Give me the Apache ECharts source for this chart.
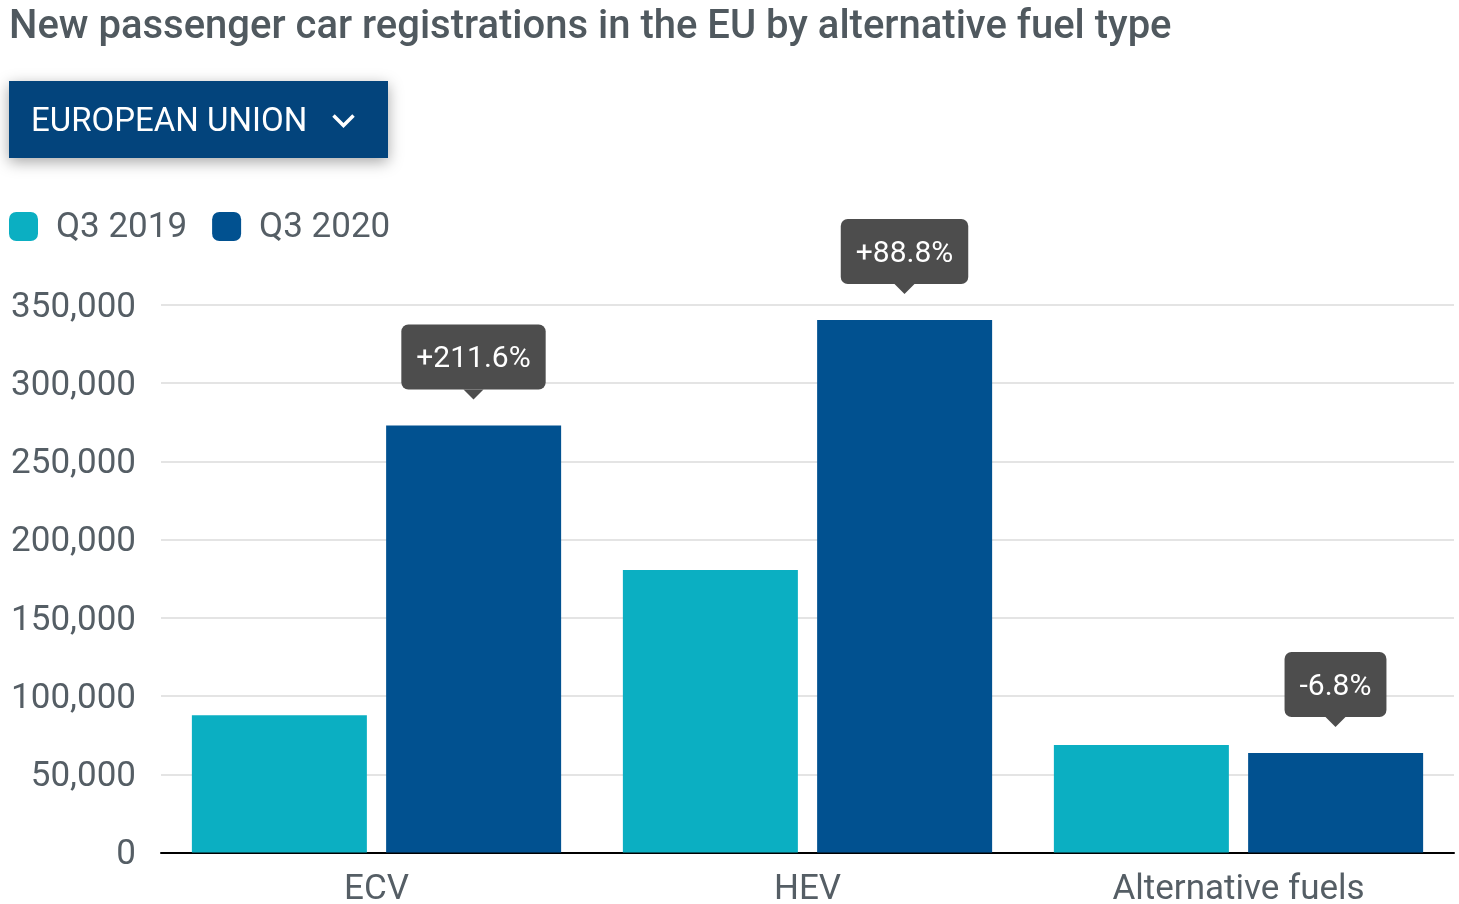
<!DOCTYPE html>
<html><head><meta charset="utf-8">
<style>html,body{margin:0;padding:0;background:#fff}#c{width:1459px;height:904px}</style>
<script src="https://cdn.jsdelivr.net/npm/echarts@6/dist/echarts.min.js"></script>
</head><body><div id="c"></div>
<script>
const categories = ['ECV','HEV','Alternative fuels'];
const q32019 = [87700,180600,68700];
const q32020 = [273000,340400,63600];
const changes = ['+211.6%','+88.8%','-6.8%'];
const font='Roboto', grey='#555e65';
const chart=echarts.init(document.getElementById('c'),null,{renderer:'canvas'});
chart.setOption({
 animation:false,
 textStyle:{fontFamily:font},
 title:{text:'New passenger car registrations in the EU by alternative fuel type',left:9,top:8,padding:0,
  textStyle:{fontFamily:font,fontSize:40,fontWeight:500,color:'#50595f'}},
 legend:{left:9,top:211,padding:0,itemWidth:29,itemHeight:29,itemGap:25,icon:'roundRect',data:['Q3 2019','Q3 2020'],
  formatter:n=>'{a|'+n+'}',
  textStyle:{fontFamily:font,fontSize:35,color:grey,
   rich:{a:{fontFamily:font,fontSize:35,color:grey,padding:[4,0,0,13]}}}},
 grid:{left:161,right:5,top:305,bottom:51.5,outerBoundsMode:'none'},
 xAxis:{type:'category',data:categories,axisTick:{show:false},
  axisLine:{lineStyle:{color:'#000',width:2}},
  axisLabel:{fontFamily:font,fontSize:35,color:grey,margin:20}},
 yAxis:{type:'value',min:0,max:350000,interval:50000,axisLine:{show:false},axisTick:{show:false},
  splitLine:{lineStyle:{color:'#e4e4e4',width:2}},
  axisLabel:{fontFamily:font,fontSize:35,color:grey,margin:25,
   formatter:v=>'{a|'+v.toLocaleString('en-US')+'}',
   rich:{a:{fontFamily:font,fontSize:35,color:grey,padding:[6,0,0,0]}}}},
 graphic:[
  {type:'rect',left:9,top:81,shape:{width:379,height:77},
   style:{fill:'#03447c',shadowBlur:14,shadowColor:'rgba(0,0,0,0.35)',shadowOffsetY:4}},
  {type:'text',left:31,top:106,style:{text:'EUROPEAN UNION',fontFamily:font,fontSize:33,fill:'#fff'}},
  {type:'polyline',left:331,top:113,shape:{points:[[0,0],[10,10],[20,0]]},
   style:{stroke:'#fff',lineWidth:3.5,fill:null}}
 ],
 series:[
  {name:'Q3 2019',type:'bar',data:q32019,barWidth:175,barGap:'11%',itemStyle:{color:'#0bafc2'}},
  {name:'Q3 2020',type:'bar',data:q32020,barWidth:175,barGap:'11%',itemStyle:{color:'#015190'}},
  {name:'change',type:'custom',clip:false,z:10,
   data:q32020.map((v,i)=>[i,v,changes[i]]),encode:{x:0,y:1},
   renderItem(params,api){
     const p=api.coord([api.value(0),api.value(1)]);
     const x=p[0]+97, tip=p[1]-26, base=tip-10;
     return {type:'group',children:[
      {type:'polygon',shape:{points:[[x-10,base],[x+10,base],[x,tip]]},style:{fill:'#4d4d4d'}},
      {type:'text',x:x,y:base,style:{text:changes[params.dataIndex],fontFamily:font,fontSize:30,fill:'#fff',
        align:'center',verticalAlign:'bottom',backgroundColor:'#4d4d4d',borderRadius:7,padding:[20,15,15,15]}}
     ]};
   }}
 ]
});
</script></body></html>
